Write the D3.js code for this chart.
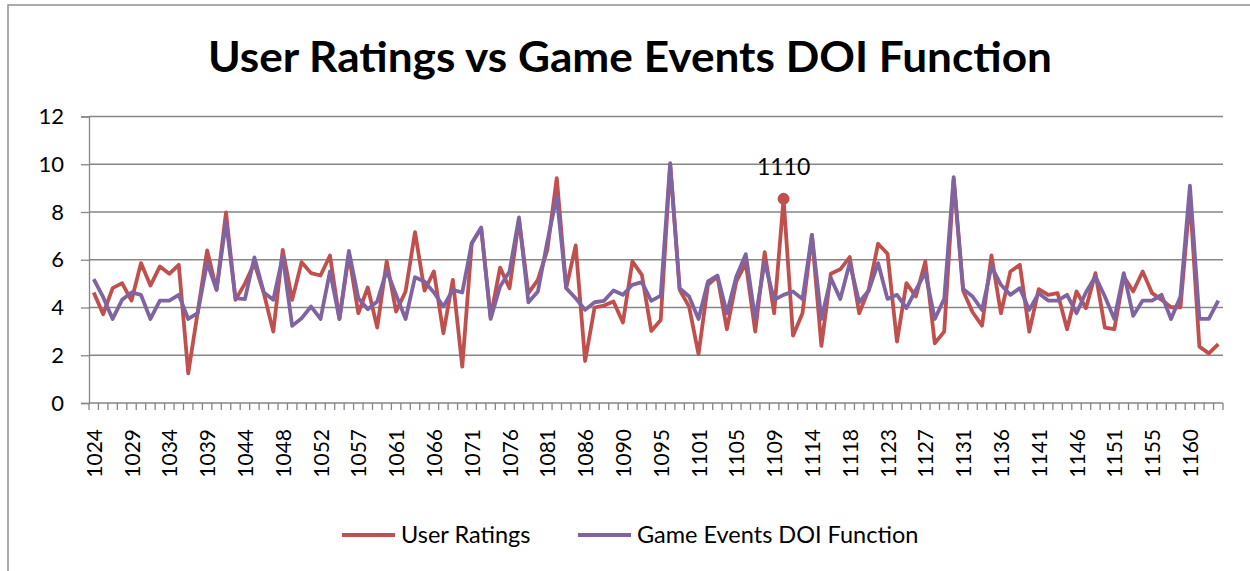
<!DOCTYPE html>
<html>
<head>
<meta charset="utf-8">
<script src="https://cdn.jsdelivr.net/npm/d3@7"></script>
<style>
  body { margin: 0; background: #fff; }
  text { font-family: Lato, "Open Sans", sans-serif; fill: #000; }
</style>
</head>
<body>
<svg id="chart"></svg>
<script>
// game ids on the category axis
var ids = [
  1024, 1025, 1027, 1028, 1029, 1030, 1032, 1033, 1034, 1035, 1036, 1038,
  1039, 1040, 1042, 1043, 1044, 1045, 1046, 1047, 1048, 1049, 1050, 1051,
  1052, 1053, 1055, 1056, 1057, 1058, 1059, 1060, 1061, 1062, 1064, 1065,
  1066, 1067, 1069, 1070, 1071, 1072, 1074, 1075, 1076, 1077, 1079, 1080,
  1081, 1082, 1084, 1085, 1086, 1087, 1088, 1089, 1090, 1091, 1093, 1094,
  1095, 1097, 1098, 1100, 1101, 1102, 1103, 1104, 1105, 1106, 1107, 1108,
  1109, 1110, 1112, 1113, 1114, 1115, 1116, 1117, 1118, 1119, 1121, 1122,
  1123, 1124, 1125, 1126, 1127, 1128, 1129, 1130, 1131, 1132, 1134, 1135,
  1136, 1137, 1139, 1140, 1141, 1142, 1144, 1145, 1146, 1147, 1149, 1150,
  1151, 1152, 1153, 1154, 1155, 1156, 1157, 1159, 1160, 1161, 1162, 1163
];

var userRatings = [
  4.63, 3.72, 4.81, 5.02, 4.29, 5.86, 4.92, 5.72, 5.41, 5.79,
  1.24, 3.8, 6.39, 4.74, 7.98, 4.32, 5.0, 5.86, 4.6, 2.99,
  6.41, 4.32, 5.9, 5.44, 5.34, 6.18, 3.52, 6.2, 3.76, 4.84,
  3.16, 5.93, 3.83, 4.67, 7.16, 4.71, 5.51, 2.92, 5.16, 1.52,
  6.69, 7.32, 3.6, 5.67, 4.81, 7.67, 4.6, 5.16, 6.41, 9.42,
  4.81, 6.6, 1.76, 4.0, 4.08, 4.25, 3.37, 5.93, 5.37, 3.02,
  3.48, 10.0, 4.74, 4.04, 2.05, 4.95, 5.3, 3.09, 5.09, 5.86,
  2.99, 6.32, 3.76, 8.55, 2.82, 3.76, 7.04, 2.39, 5.41, 5.6,
  6.11, 3.76, 4.74, 6.67, 6.25, 2.57, 5.02, 4.46, 5.93, 2.5,
  2.99, 9.35, 4.7, 3.8, 3.24, 6.18, 3.76, 5.51, 5.79, 2.99,
  4.77, 4.53, 4.6, 3.09, 4.67, 3.97, 5.44, 3.16, 3.09, 5.3,
  4.67, 5.51, 4.6, 4.32, 4.01, 4.01, 8.6, 2.36, 2.08, 2.47
];

var doiFunction = [
  5.19, 4.43, 3.52, 4.32, 4.63, 4.53, 3.52, 4.29, 4.29, 4.53,
  3.52, 3.76, 5.88, 4.74, 7.6, 4.39, 4.35, 6.1, 4.63, 4.32,
  6.14, 3.23, 3.55, 4.04, 3.52, 5.51, 3.52, 6.37, 4.39, 3.93,
  4.25, 5.55, 4.53, 3.52, 5.27, 5.09, 4.63, 4.04, 4.74, 4.63,
  6.69, 7.35, 3.52, 4.88, 5.51, 7.77, 4.22, 4.67, 6.76, 8.65,
  4.81, 4.39, 3.9, 4.22, 4.28, 4.71, 4.53, 4.95, 5.06, 4.28,
  4.5, 10.05, 4.81, 4.46, 3.52, 5.09, 5.34, 3.76, 5.3, 6.23,
  3.52, 5.9, 4.32, 4.53, 4.67, 4.35, 7.04, 3.52, 5.23, 4.36,
  5.86, 4.22, 4.7, 5.86, 4.36, 4.53, 3.97, 4.74, 5.46, 3.52,
  4.36, 9.46, 4.78, 4.46, 3.9, 5.72, 4.95, 4.53, 4.81, 3.9,
  4.6, 4.29, 4.29, 4.53, 3.76, 4.64, 5.3, 4.46, 3.52, 5.44,
  3.65, 4.29, 4.29, 4.53, 3.52, 4.46, 9.1, 3.52, 3.52, 4.29
];

var xTickLabels = [1024, 1029, 1034, 1039, 1044, 1048, 1052, 1057, 1061, 1066,
  1071, 1076, 1081, 1086, 1090, 1095, 1101, 1105, 1109, 1114, 1118, 1123,
  1127, 1131, 1136, 1141, 1146, 1151, 1155, 1160];
var yTicks = [0, 2, 4, 6, 8, 10, 12];
var highlightId = 1110;

var seriesNames = ["User Ratings", "Game Events DOI Function"];
var seriesColors = ["#C0504D", "#8064A2"];

var width = 1250, height = 571;
var plotLeft = 89, plotRight = 1223, plotTop = 116.5, plotBottom = 403;
var grey = "#868686";

var svg = d3.select("#chart")
    .attr("width", width)
    .attr("height", height);

// outer chart border
svg.append("rect")
  .attr("x", 8).attr("y", 5)
  .attr("width", 1300).attr("height", 700)
  .attr("fill", "none")
  .attr("stroke", "#8f8f8f")
  .attr("stroke-width", 1.5);

svg.append("text")
  .attr("x", 630).attr("y", 72)
  .attr("text-anchor", "middle")
  .attr("font-size", 42)
  .attr("font-weight", "bold")
  .attr("textLength", 844)
  .attr("lengthAdjust", "spacingAndGlyphs")
  .text("User Ratings vs Game Events DOI Function");

var x = d3.scaleBand().domain(ids).range([plotLeft, plotRight]).padding(0);
var y = d3.scaleLinear().domain([0, 12]).range([plotBottom, plotTop]);
var cx = function(id) { return x(id) + x.bandwidth() / 2; };

// gridlines
svg.append("g").selectAll("line")
  .data(yTicks.filter(function(d) { return d > 0; }))
  .enter().append("line")
  .attr("x1", plotLeft).attr("x2", plotRight)
  .attr("y1", function(d) { return y(d); })
  .attr("y2", function(d) { return y(d); })
  .attr("stroke", grey).attr("stroke-width", 1.3);

// y axis
var yAxis = svg.append("g")
  .attr("transform", "translate(" + plotLeft + ",0)")
  .call(d3.axisLeft(y).tickValues(yTicks).tickSize(8).tickPadding(17));
yAxis.select(".domain").attr("stroke", grey).attr("stroke-width", 1.3);
yAxis.selectAll(".tick line").attr("stroke", grey).attr("stroke-width", 1.3);
yAxis.selectAll(".tick text")
  .attr("font-size", 22)
  .attr("font-family", "Lato, sans-serif")
  .attr("fill", "#000");

// x axis line and boundary ticks
svg.append("line")
  .attr("x1", plotLeft).attr("x2", plotRight)
  .attr("y1", plotBottom).attr("y2", plotBottom)
  .attr("stroke", grey).attr("stroke-width", 1.3);

svg.append("g").selectAll("line")
  .data(ids.map(function(d) { return x(d); }).concat([plotRight]))
  .enter().append("line")
  .attr("x1", function(d) { return d; })
  .attr("x2", function(d) { return d; })
  .attr("y1", plotBottom).attr("y2", plotBottom + 7)
  .attr("stroke", grey).attr("stroke-width", 1.3);

svg.append("g").selectAll("text")
  .data(xTickLabels)
  .enter().append("text")
  .attr("transform", function(d) {
    return "translate(" + (cx(d) + 8) + "," + 429 + ") rotate(-90)";
  })
  .attr("text-anchor", "end")
  .attr("font-size", 21)
  .text(function(d) { return d; });

// lines
var line = d3.line()
  .x(function(d) { return cx(d.id); })
  .y(function(d) { return y(d.v); });

[userRatings, doiFunction].forEach(function(vals, k) {
  var pts = ids.map(function(id, i) { return {id: id, v: vals[i]}; });
  svg.append("path")
    .datum(pts)
    .attr("d", line)
    .attr("fill", "none")
    .attr("stroke", seriesColors[k])
    .attr("stroke-width", 3.8)
    .attr("stroke-linejoin", "round");
});

// highlighted point
var hi = ids.indexOf(highlightId);
svg.append("circle")
  .attr("cx", cx(highlightId))
  .attr("cy", y(userRatings[hi]))
  .attr("r", 6)
  .attr("fill", seriesColors[0]);
svg.append("text")
  .attr("x", cx(highlightId))
  .attr("y", y(userRatings[hi]) - 24)
  .attr("text-anchor", "middle")
  .attr("font-size", 23)
  .text(highlightId);

// legend
var legendX = [342, 578];
var legend = svg.append("g").selectAll("g")
  .data(seriesNames)
  .enter().append("g")
  .attr("transform", function(d, i) { return "translate(" + legendX[i] + ",535)"; });
legend.append("line")
  .attr("x1", 0).attr("x2", 53)
  .attr("stroke", function(d, i) { return seriesColors[i]; })
  .attr("stroke-width", 3.8);
legend.append("text")
  .attr("x", 59).attr("y", 8)
  .attr("font-size", 23.5)
  .text(function(d) { return d; });
</script>
</body>
</html>
